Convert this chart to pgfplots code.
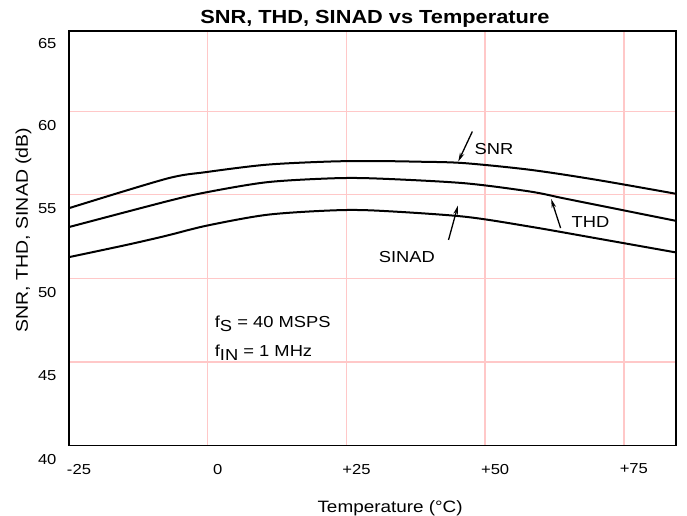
\documentclass[border=0pt]{standalone}
\usepackage{fontspec}
\setmainfont{Liberation Sans}[FakeStretch=1.15]
\usepackage{pgfplots}
\pgfplotsset{compat=1.18}
\usetikzlibrary{arrows.meta}
\definecolor{gridpink}{RGB}{255,200,200}
\newcommand{\sub}[1]{\raisebox{-0.45ex}{#1}}
\begin{document}
\begin{tikzpicture}
\useasboundingbox (-69bp,-70.5bp) rectangle (618bp,445.5bp);
\begin{axis}[
  at={(0,0)}, anchor=south west,
  scale only axis, width=607bp, height=414.5bp,
  xmin=-25, xmax=84.4, ymin=40, ymax=64.8,
  xtick={-25,0,25,50,75}, xticklabels={-25,0,+25,+50,+75},
  ytick={40,45,50,55,60},
  xmajorgrids, ymajorgrids,
  grid style={draw=gridpink, line width=1.3bp},
  major grid style={draw=gridpink, line width=1.3bp},
  major tick length=0pt,
  axis line style={line width=1.3bp},
  tick label style={font=\fontsize{14.5}{14.5}\selectfont},
  /pgf/number format/assume math mode=true,
  xticklabel style={xshift=10bp, yshift=-15bp},
  yticklabel style={yshift=-14bp, xshift=-9bp},
  xlabel={Temperature (°C)},
  xlabel style={at={(rel axis cs:0.529,-0.152)}, anchor=center, font=\fontsize{16.5}{16.5}\selectfont},
  ylabel={SNR, THD, SINAD (dB)},
  ylabel style={at={(rel axis cs:-0.075,0.52)}, anchor=center, font=\fontsize{17}{17}\selectfont},
  title={\textbf{SNR, THD, SINAD vs Temperature}},
  title style={at={(rel axis cs:0.504,1.015)}, anchor=center, font=\fontsize{19}{19}\selectfont},
  clip=false,
]
\addplot[black, line width=2bp, smooth] coordinates {
 (-25,54.2) (-7.45,55.96) (-0.23,56.36) (10.6,56.8) (22,56.99) (30,57.02) (38,56.98) (46,56.9) (58,56.5) (70,55.9) (84.4,55.06)};
\addplot[black, line width=2bp, smooth] coordinates {
 (-25,53.07) (-7.45,54.6) (-0.23,55.15) (10.6,55.75) (22,55.98) (30,55.98) (46,55.7) (58,55.2) (64,54.8) (70,54.4) (84.4,53.44)};
\addplot[black, line width=2bp, smooth] coordinates {
 (-25,51.27) (-14.65,52.0) (-7.45,52.55) (-0.23,53.15) (10.6,53.8) (22,54.06) (30,54.06) (46,53.7) (58,53.1) (70,52.4) (84.4,51.55)};
\node[anchor=east, font=\fontsize{14.5}{14.5}\selectfont] at (rel axis cs:0,1) [xshift=-9bp, yshift=-13bp] {65};
\draw[black, line width=1.3bp, -{Stealth[length=9bp,width=4.5bp]}] (axis cs:47.7,58.79) -- (axis cs:45.16,56.99);
\draw[black, line width=1.3bp, -{Stealth[length=9bp,width=4.5bp]}] (axis cs:63.6,53.01) -- (axis cs:61.9,54.75);
\draw[black, line width=1.3bp, -{Stealth[length=9bp,width=4.5bp]}] (axis cs:43.4,52.3) -- (axis cs:45.1,54.36);
\node[font=\fontsize{16}{16}\selectfont, inner sep=0pt] at (axis cs:51.6,57.74) {SNR};
\node[font=\fontsize{16}{16}\selectfont, inner sep=0pt] at (axis cs:69.0,53.4) {THD};
\node[font=\fontsize{16}{16}\selectfont, inner sep=0pt] at (axis cs:35.9,51.25) {SINAD};
\node[font=\fontsize{16}{16}\selectfont, inner sep=0pt, anchor=west] at (axis cs:1.26,47.27) {f\sub{S} = 40 MSPS};
\node[font=\fontsize{16}{16}\selectfont, inner sep=0pt, anchor=west] at (axis cs:1.26,45.54) {f\sub{IN} = 1 MHz};
\end{axis}
\end{tikzpicture}
\end{document}
